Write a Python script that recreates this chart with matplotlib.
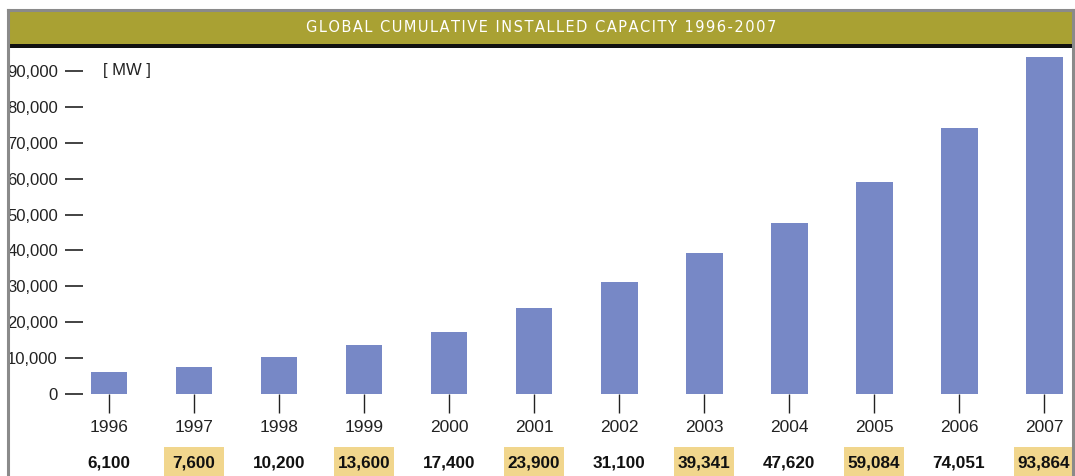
import matplotlib.pyplot as plt
from matplotlib.patches import Rectangle
from matplotlib.transforms import blended_transform_factory

years = ["1996", "1997", "1998", "1999", "2000", "2001",
         "2002", "2003", "2004", "2005", "2006", "2007"]
capacity = [6100, 7600, 10200, 13600, 17400, 23900,
            31100, 39341, 47620, 59084, 74051, 93864]
yticks = [0, 10000, 20000, 30000, 40000, 50000, 60000, 70000, 80000, 90000]
title = "GLOBAL CUMULATIVE INSTALLED CAPACITY 1996-2007"

W, H = 1075, 476
sans = ["Liberation Sans", "DejaVu Sans"]

fig = plt.figure(figsize=(W / 100, H / 100), dpi=100)

# frame and title bar
grey = "#8a8a8a"
fig.add_artist(plt.Line2D([8 / W, 8 / W], [0, 1 - 10 / H], color=grey, lw=2.2, transform=fig.transFigure))
fig.add_artist(plt.Line2D([1073 / W, 1073 / W], [0, 1 - 10 / H], color=grey, lw=2.2, transform=fig.transFigure))
fig.add_artist(plt.Line2D([8 / W, 1073 / W], [1 - 10 / H, 1 - 10 / H], color=grey, lw=2.2, transform=fig.transFigure))
fig.add_artist(Rectangle((9 / W, 1 - 44 / H), 1063 / W, 33 / H, facecolor="#a9a133",
                         edgecolor="none", transform=fig.transFigure))
fig.add_artist(Rectangle((9 / W, 1 - 48 / H), 1063 / W, 4 / H, facecolor="#111111",
                         edgecolor="none", transform=fig.transFigure))
# hair spaces for the letter spacing of the banner
fig.text(541 / W, 1 - 28 / H, "\u200a".join(title),
         color="white", fontsize=10.5, fontfamily="DejaVu Sans", ha="center", va="center")

# main axes: left edge at tick end, bottom at zero line
ax = fig.add_axes([83 / W, (H - 394) / H, 990 / W, (394 - 48) / H])
x = list(range(len(years)))
ax.bar(x, capacity, width=0.435, color="#7788c6")
ax.set_xlim(-0.306, 11.341)
ax.set_ylim(0, 96380)
for s in ax.spines.values():
    s.set_visible(False)
ax.patch.set_visible(False)

ax.set_yticks(yticks)
ax.set_yticklabels([f"{v:,}" for v in yticks], fontfamily=sans, fontsize=12, color="#222222")
ax.tick_params(axis="y", direction="out", length=13, width=1.2, pad=5, color="#222222")

ax.set_xticks(x)
ax.set_xticklabels(years, fontfamily=sans, fontsize=12.5, color="#222222")
ax.tick_params(axis="x", direction="out", length=13.7, width=1.0, pad=5, color="#222222")

ax.text(-0.07, 90000, "[ MW ]", fontfamily=sans, fontsize=12, color="#222222",
        ha="left", va="center")

# value row with alternating highlight boxes
tr = blended_transform_factory(ax.transData, fig.transFigure)
for i, v in enumerate(capacity):
    if i % 2 == 1:
        ax.add_patch(Rectangle((i - 0.353, 0), 0.706, 29 / H, transform=tr,
                               facecolor="#f1d68d", edgecolor="none", clip_on=False))
    ax.text(i, 12.5 / H, f"{v:,}", transform=tr, ha="center", va="center",
            fontfamily=sans, fontweight="bold", fontsize=12.3,
            color="#111111", clip_on=False)

fig.savefig("out.png", dpi=100)
